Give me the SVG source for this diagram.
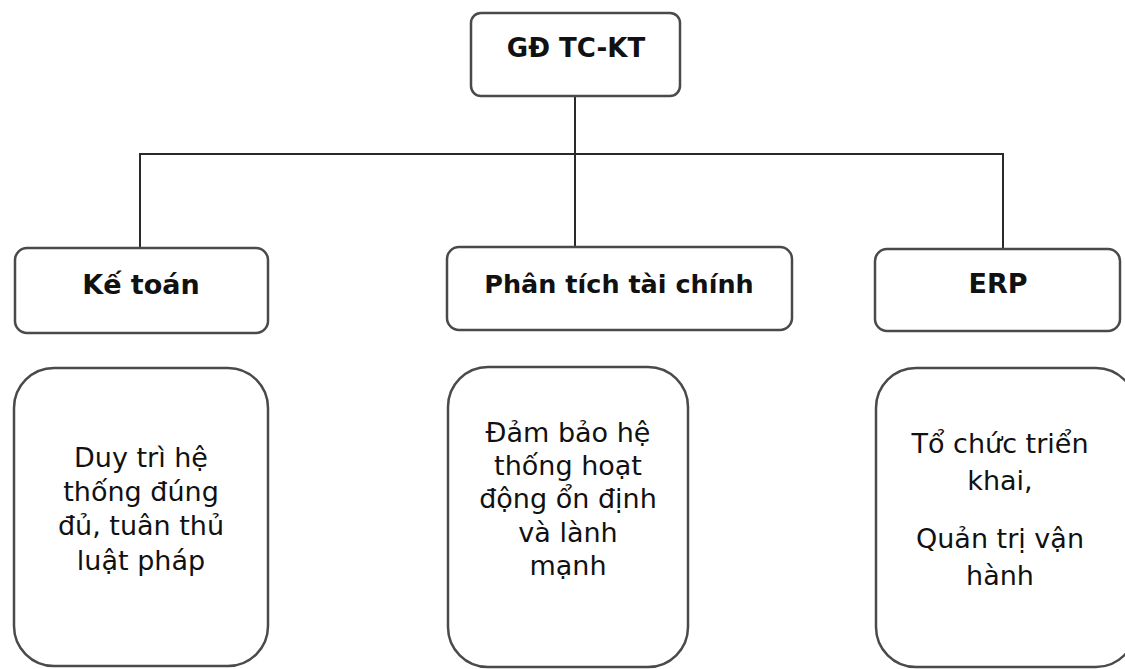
<svg xmlns="http://www.w3.org/2000/svg" width="1125" height="669" viewBox="0 0 1125 669">
<style>
.box{fill:#fff;stroke:#4a4a4a;stroke-width:2.5}
.hd{font-family:"DejaVu Sans",Verdana,sans-serif;font-weight:bold;fill:#111;text-anchor:middle}
.tx{font-family:"DejaVu Sans",Verdana,sans-serif;font-size:27px;fill:#111;text-anchor:middle}
.ln{fill:none;stroke:#2a2a2a;stroke-width:2}
</style>
<rect width="1125" height="669" fill="#fff"/>
<g id="connectors">
<path class="ln" d="M575 96 V248"/>
<path class="ln" d="M140 248 V154 H1003 V249"/>
</g>
<g id="gd"><rect class="box" x="471" y="13" width="209" height="83" rx="10"/><text class="hd" x="576" y="57" font-size="26">GĐ TC-KT</text></g>
<g id="ketoan"><rect class="box" x="15" y="248" width="253" height="85" rx="12"/><text class="hd" x="141" y="294" font-size="27">Kế toán</text></g>
<g id="phantich"><rect class="box" x="447" y="247" width="345" height="83" rx="12"/><text class="hd" x="619" y="293" font-size="25.5">Phân tích tài chính</text></g>
<g id="erp"><rect class="box" x="875" y="249" width="245" height="82" rx="12"/><text class="hd" x="998" y="293" font-size="27">ERP</text></g>
<g id="kt-desc"><rect class="box" x="14" y="368" width="254" height="298" rx="40"/>
<text class="tx"><tspan x="141" y="467">Duy trì hệ</tspan><tspan x="141" y="501">thống đúng</tspan><tspan x="141" y="535">đủ, tuân thủ</tspan><tspan x="141" y="570">luật pháp</tspan></text></g>
<g id="pt-desc"><rect class="box" x="448" y="367" width="240" height="300" rx="40"/>
<text class="tx"><tspan x="568" y="442">Đảm bảo hệ</tspan><tspan x="568" y="475">thống hoạt</tspan><tspan x="568" y="508">động ổn định</tspan><tspan x="568" y="542">và lành</tspan><tspan x="568" y="575">mạnh</tspan></text></g>
<g id="erp-desc"><rect class="box" x="876" y="368" width="260" height="299" rx="40"/>
<text class="tx"><tspan x="1000" y="453">Tổ chức triển</tspan><tspan x="1000" y="490">khai,</tspan><tspan x="1000" y="548">Quản trị vận</tspan><tspan x="1000" y="585">hành</tspan></text></g>
</svg>
